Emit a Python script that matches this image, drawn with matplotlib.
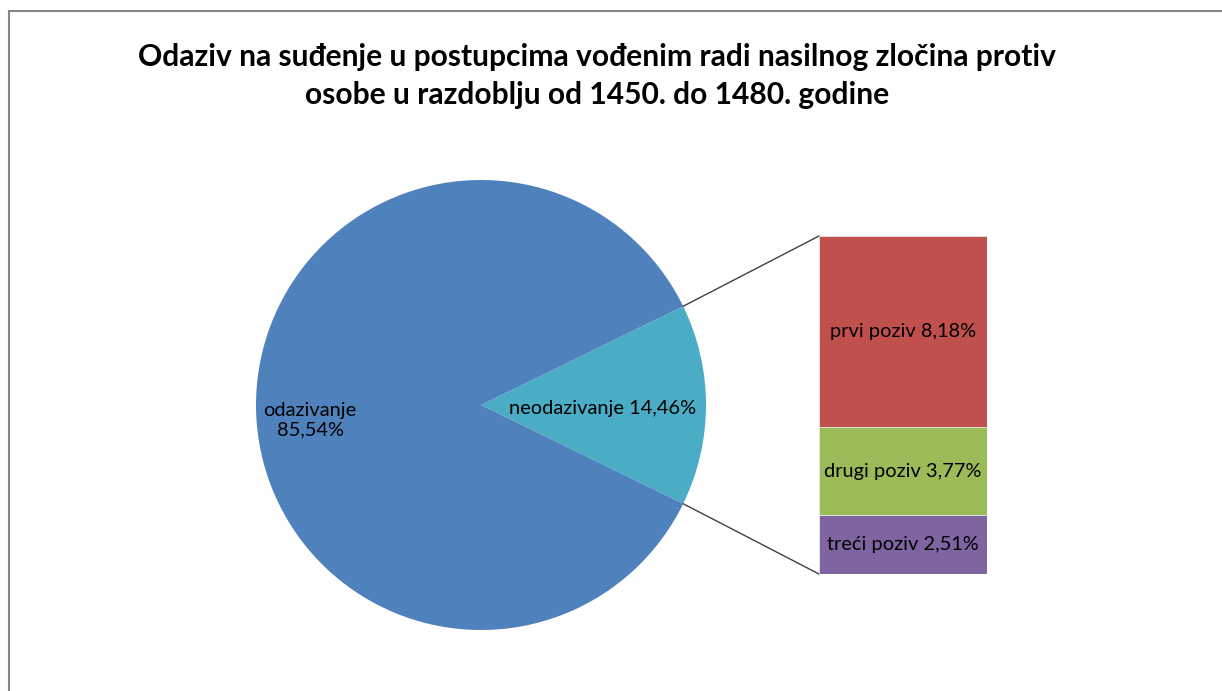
import matplotlib.pyplot as plt
from matplotlib.patches import Rectangle
import numpy as np

plt.rcParams['font.family'] = ['Lato', 'DejaVu Sans']

# data
pie_labels = ['neodazivanje', 'odazivanje']
pie_values = [14.46, 85.54]
pie_colors = ['#4BACC6', '#4F81BD']

bar_labels = ['treći poziv', 'drugi poziv', 'prvi poziv']
bar_values = [2.51, 3.77, 8.18]
bar_colors = ['#8064A2', '#9BBB59', '#C0504D']

title = ('Odaziv na suđenje u postupcima vođenim radi nasilnog zločina protiv\n'
         'osobe u razdoblju od 1450. do 1480. godine')

W, H = 1222, 691
fig = plt.figure(figsize=(W / 100, H / 100), dpi=100)
ax = fig.add_axes([0, 0, 1, 1])

# chart frame (runs off the right and bottom edge)
ax.add_patch(Rectangle((9, -20), W + 40, H - 11 + 20, fill=False,
                       edgecolor='#868686', linewidth=1.5))

fmt = lambda v: ('%.2f%%' % v).replace('.', ',')

# pie, small slice centred on the right
cx, cy, r = 481, 286, 225
half = pie_values[0] / 100 * 360 / 2
wedges, _ = ax.pie(pie_values, colors=pie_colors, startangle=-half,
                   center=(cx, cy), radius=r, frame=True,
                   wedgeprops=dict(linewidth=0))
ax.set_xlim(0, W)
ax.set_ylim(0, H)
ax.set_aspect('equal')
ax.axis('off')

lab_fs = 14.4
ax.text(603, H - 408, '%s %s' % (pie_labels[0], fmt(pie_values[0])),
        ha='center', va='center', fontsize=lab_fs)
ax.text(310, H - 420, '%s\n%s' % (pie_labels[1], fmt(pie_values[1])),
        ha='center', va='center', fontsize=lab_fs, linespacing=1.2)

# stacked bar of the small slice
bx0, bx1, by0, by1 = 819, 987, H - 574, H - 236
bax = fig.add_axes([bx0 / W, by0 / H, (bx1 - bx0) / W, (by1 - by0) / H])
bax.set_xlim(0, 1)
bax.set_ylim(0, sum(bar_values))
bax.axis('off')
bottom = 0
for lab, v, c in zip(bar_labels, bar_values, bar_colors):
    bax.bar(0.5, v, width=1.0, bottom=bottom, color=c,
            edgecolor='#e8e8e8', linewidth=0.6)
    bax.text(0.5, bottom + v / 2, '%s %s' % (lab, fmt(v)),
             ha='center', va='center', fontsize=lab_fs)
    bottom += v

# connector lines from slice edge to bar corners
a = np.radians(half)
ax.plot([cx + r * np.cos(a), bx0], [cy + r * np.sin(a), by1],
        color='#404040', linewidth=1)
ax.plot([cx + r * np.cos(-a), bx0], [cy + r * np.sin(-a), by0],
        color='#404040', linewidth=1)

ax.text(597, H - 76, title, ha='center', va='center', fontsize=21.6,
        fontweight='bold', linespacing=1.45)

fig.savefig('out.png', dpi=100)
